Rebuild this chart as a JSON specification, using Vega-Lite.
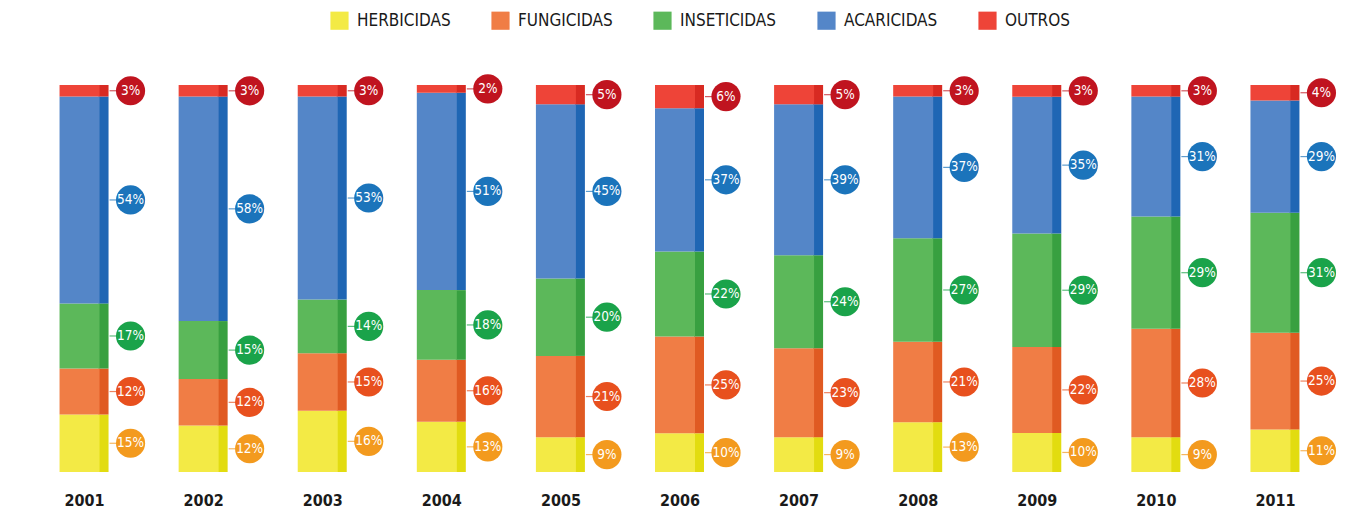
{
  "$schema": "https://vega.github.io/schema/vega-lite/v6.json",
  "autosize": "none",
  "width": 1310,
  "height": 387,
  "padding": {"left": 45, "top": 85, "right": 7, "bottom": 47},
  "background": "white",
  "config": {"view": {"stroke": null}, "font": "DejaVu Sans Condensed"},
  "data": {"values": [
    {"year": "2001", "cat": "HERBICIDAS", "v": 15}, {"year": "2001", "cat": "FUNGICIDAS", "v": 12}, {"year": "2001", "cat": "INSETICIDAS", "v": 17}, {"year": "2001", "cat": "ACARICIDAS", "v": 54}, {"year": "2001", "cat": "OUTROS", "v": 3},
    {"year": "2002", "cat": "HERBICIDAS", "v": 12}, {"year": "2002", "cat": "FUNGICIDAS", "v": 12}, {"year": "2002", "cat": "INSETICIDAS", "v": 15}, {"year": "2002", "cat": "ACARICIDAS", "v": 58}, {"year": "2002", "cat": "OUTROS", "v": 3},
    {"year": "2003", "cat": "HERBICIDAS", "v": 16}, {"year": "2003", "cat": "FUNGICIDAS", "v": 15}, {"year": "2003", "cat": "INSETICIDAS", "v": 14}, {"year": "2003", "cat": "ACARICIDAS", "v": 53}, {"year": "2003", "cat": "OUTROS", "v": 3},
    {"year": "2004", "cat": "HERBICIDAS", "v": 13}, {"year": "2004", "cat": "FUNGICIDAS", "v": 16}, {"year": "2004", "cat": "INSETICIDAS", "v": 18}, {"year": "2004", "cat": "ACARICIDAS", "v": 51}, {"year": "2004", "cat": "OUTROS", "v": 2},
    {"year": "2005", "cat": "HERBICIDAS", "v": 9}, {"year": "2005", "cat": "FUNGICIDAS", "v": 21}, {"year": "2005", "cat": "INSETICIDAS", "v": 20}, {"year": "2005", "cat": "ACARICIDAS", "v": 45}, {"year": "2005", "cat": "OUTROS", "v": 5},
    {"year": "2006", "cat": "HERBICIDAS", "v": 10}, {"year": "2006", "cat": "FUNGICIDAS", "v": 25}, {"year": "2006", "cat": "INSETICIDAS", "v": 22}, {"year": "2006", "cat": "ACARICIDAS", "v": 37}, {"year": "2006", "cat": "OUTROS", "v": 6},
    {"year": "2007", "cat": "HERBICIDAS", "v": 9}, {"year": "2007", "cat": "FUNGICIDAS", "v": 23}, {"year": "2007", "cat": "INSETICIDAS", "v": 24}, {"year": "2007", "cat": "ACARICIDAS", "v": 39}, {"year": "2007", "cat": "OUTROS", "v": 5},
    {"year": "2008", "cat": "HERBICIDAS", "v": 13}, {"year": "2008", "cat": "FUNGICIDAS", "v": 21}, {"year": "2008", "cat": "INSETICIDAS", "v": 27}, {"year": "2008", "cat": "ACARICIDAS", "v": 37}, {"year": "2008", "cat": "OUTROS", "v": 3},
    {"year": "2009", "cat": "HERBICIDAS", "v": 10}, {"year": "2009", "cat": "FUNGICIDAS", "v": 22}, {"year": "2009", "cat": "INSETICIDAS", "v": 29}, {"year": "2009", "cat": "ACARICIDAS", "v": 35}, {"year": "2009", "cat": "OUTROS", "v": 3},
    {"year": "2010", "cat": "HERBICIDAS", "v": 9}, {"year": "2010", "cat": "FUNGICIDAS", "v": 28}, {"year": "2010", "cat": "INSETICIDAS", "v": 29}, {"year": "2010", "cat": "ACARICIDAS", "v": 31}, {"year": "2010", "cat": "OUTROS", "v": 3},
    {"year": "2011", "cat": "HERBICIDAS", "v": 11}, {"year": "2011", "cat": "FUNGICIDAS", "v": 25}, {"year": "2011", "cat": "INSETICIDAS", "v": 31}, {"year": "2011", "cat": "ACARICIDAS", "v": 29}, {"year": "2011", "cat": "OUTROS", "v": 4}
  ]},
  "transform": [
    {"calculate": "indexof(['HERBICIDAS','FUNGICIDAS','INSETICIDAS','ACARICIDAS','OUTROS'], datum.cat)", "as": "k"},
    {"stack": "v", "groupby": ["year"], "sort": [{"field": "k", "order": "ascending"}], "offset": "normalize", "as": ["y0", "y1"]},
    {"calculate": "(datum.y0 + datum.y1) / 2", "as": "ym"},
    {"calculate": "datum.v + '%'", "as": "lbl"}
  ],
  "encoding": {
    "x": {"field": "year", "type": "nominal", "sort": null,
      "scale": {"paddingInner": 0, "paddingOuter": 0},
      "axis": {"title": null, "domain": false, "ticks": false, "labelAngle": 0, "labelOffset": -20, "labelPadding": 20,
        "labelFontSize": 16, "labelFontWeight": "bold", "labelColor": "#1a1a1a", "labelFont": "DejaVu Sans Condensed"}}
  },
  "layer": [
    {
      "mark": {"type": "bar", "width": 10, "xOffset": -1, "opacity": 1},
      "encoding": {
        "y": {"field": "y0", "type": "quantitative", "scale": {"domain": [0, 1]}, "axis": null},
        "y2": {"field": "y1"},
        "color": {"field": "cat", "type": "nominal", "legend": null,
          "scale": {"domain": ["HERBICIDAS", "FUNGICIDAS", "INSETICIDAS", "ACARICIDAS", "OUTROS"],
                    "range": ["#e2dc10", "#e05a22", "#38a040", "#1f66b4", "#d82a22"]}}
      }
    },
    {
      "mark": {"type": "bar", "width": 40, "xOffset": -25},
      "encoding": {
        "y": {"field": "y0", "type": "quantitative", "scale": {"domain": [0, 1]}, "axis": null},
        "y2": {"field": "y1"},
        "color": {"field": "cat", "type": "nominal", "sort": ["HERBICIDAS", "FUNGICIDAS", "INSETICIDAS", "ACARICIDAS", "OUTROS"],
          "scale": {"domain": ["HERBICIDAS", "FUNGICIDAS", "INSETICIDAS", "ACARICIDAS", "OUTROS"],
                    "range": ["#f3ea45", "#f07d45", "#5cb85a", "#5486c8", "#ee4438"]},
          "legend": {"title": null, "orient": "none", "legendX": 285, "legendY": -74, "direction": "horizontal", "columns": 5,
            "symbolType": "square", "symbolSize": 330, "symbolStrokeWidth": 0, "labelFontSize": 17, "labelColor": "#1a1a1a",
            "labelFont": "DejaVu Sans Condensed", "labelOffset": 8, "columnPadding": 40}}
      }
    },
    {
      "mark": {"type": "point", "shape": "M-1,0L1,0", "size": 64, "filled": false, "strokeWidth": 1.2, "xOffset": 9},
      "encoding": {
        "y": {"field": "ym", "type": "quantitative", "scale": {"domain": [0, 1]}},
        "color": {"field": "cat", "type": "nominal", "legend": null,
          "scale": {"domain": ["HERBICIDAS", "FUNGICIDAS", "INSETICIDAS", "ACARICIDAS", "OUTROS"],
                    "range": ["#f39a1e", "#e8501e", "#1aa34a", "#1b74bb", "#c0141f"]}}
      }
    },
    {
      "mark": {"type": "point", "shape": "circle", "size": 850, "filled": true, "opacity": 1, "xOffset": 26},
      "encoding": {
        "y": {"field": "ym", "type": "quantitative", "scale": {"domain": [0, 1]}},
        "color": {"field": "cat", "type": "nominal", "legend": null,
          "scale": {"domain": ["HERBICIDAS", "FUNGICIDAS", "INSETICIDAS", "ACARICIDAS", "OUTROS"],
                    "range": ["#f39a1e", "#e8501e", "#1aa34a", "#1b74bb", "#c0141f"]}}
      }
    },
    {
      "mark": {"type": "text", "xOffset": 26, "color": "white", "fontSize": 13.5, "font": "DejaVu Sans Condensed", "baseline": "middle", "align": "center"},
      "encoding": {
        "y": {"field": "ym", "type": "quantitative", "scale": {"domain": [0, 1]}},
        "text": {"field": "lbl"}
      }
    }
  ],
  "resolve": {"scale": {"color": "independent"}}
}
